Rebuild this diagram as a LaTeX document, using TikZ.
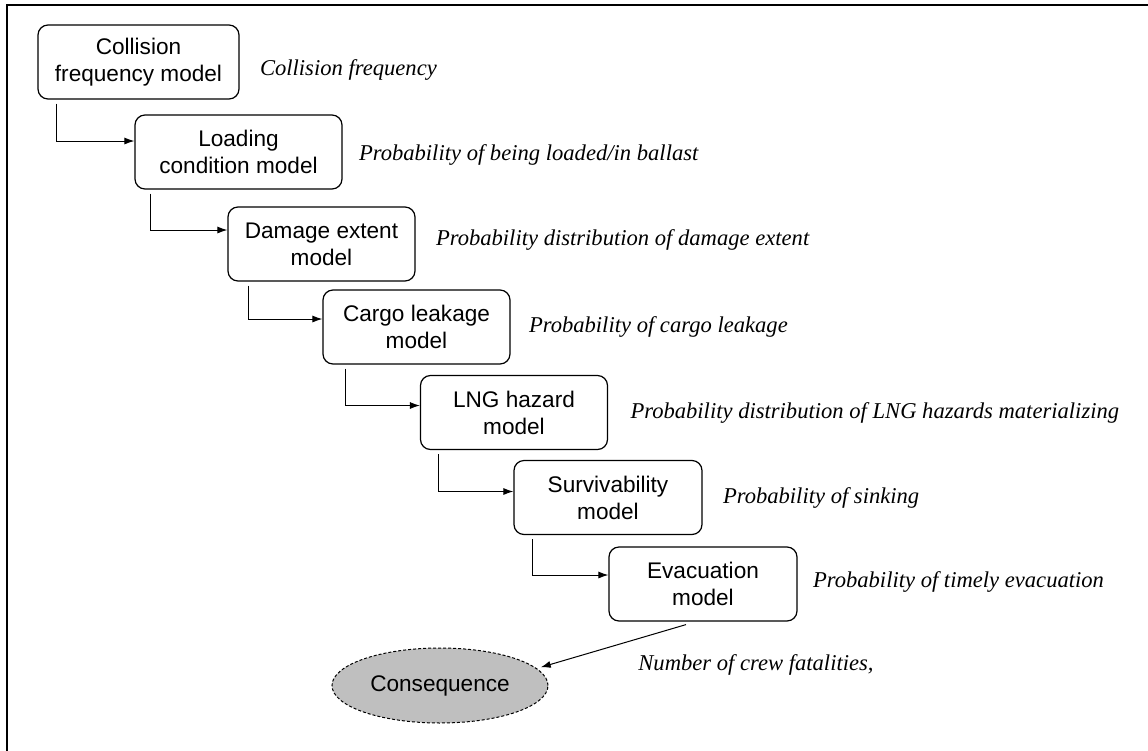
\documentclass[tikz,border=0pt]{standalone}
\usepackage{fontspec}
\setmainfont{Liberation Serif}
\setsansfont{Liberation Sans}
\usepackage{xcolor}
\usetikzlibrary{arrows.meta}
\usetikzlibrary{positioning}
\usetikzlibrary{calc}
\usetikzlibrary{shapes.geometric}

\begin{document}
\begin{tikzpicture}[x=0.5pt, y=-0.5pt,
	model/.style={rectangle, rounded corners=5pt, draw=black, line width=0.6pt, minimum height=37pt, inner sep=0pt, align=center, font=\sffamily\fontsize{11.3}{13.5}\selectfont},
	result/.style={anchor=west, inner sep=0pt, font=\itshape\fontsize{11.3}{13.5}\selectfont},
	flow/.style={-{Latex[length=5pt, width=3.5pt]}, line width=0.5pt}
]
	\useasboundingbox (0,0) rectangle (1148,751);
	\draw[line width=0.8pt] (7,751) -- (7,5) -- (1148,5);
	% models
	\node[model, minimum width=100.5pt] (colfreq) at (138.5,62) {Collision\\frequency model};
	\node[model, minimum width=103.5pt] (loadcond) at (238.5,152) {Loading\\condition model};
	\node[model, minimum width=93.5pt] (dmgext) at (321.5,244) {Damage extent\\model};
	\node[model, minimum width=93.5pt] (leak) at (416.5,327) {Cargo leakage\\model};
	\node[model, minimum width=93.5pt] (lng) at (514,412.5) {LNG hazard\\model};
	\node[model, minimum width=94pt] (surv) at (608,497.5) {Survivability\\model};
	\node[model, minimum width=94pt] (evac) at (703,584) {Evacuation\\model};
	\node[ellipse, draw=black, dash pattern=on 1.5pt off 1pt, line width=0.5pt, fill=black!25, minimum width=108pt, minimum height=37.5pt, inner sep=0pt, font=\sffamily\fontsize{11.3}{13.5}\selectfont] (cons) at (440,685.5) {Consequence};
	% outputs
	\node[result, right=10pt of colfreq, yshift=-4pt] (colfreqout) {Collision frequency};
	\node[result, right=8pt of loadcond, yshift=-1.5pt] (loadcondout) {Probability of being loaded/in ballast};
	\node[result, right=10pt of dmgext, yshift=2pt] (dmgextout) {Probability distribution of damage extent};
	\node[result, right=9pt of leak] (leakout) {Probability of cargo leakage};
	\node[result, right=11pt of lng] (lngout) {Probability distribution of LNG hazards materializing};
	\node[result, right=10pt of surv] (survout) {Probability of sinking};
	\node[result, right=7.5pt of evac, yshift=1pt] (evacout) {Probability of timely evacuation};
	\node[result] (consout) at (638,665) {Number of crew fatalities,};
	% links
	\draw[flow] ($(colfreq.south west)+(19,4)$) |- ($(loadcond.west)+(0,-11)$);
	\draw[flow] ($(loadcond.south west)+(16,4)$) |- ($(dmgext.west)+(0,-14)$);
	\draw[flow] ($(dmgext.south west)+(21,4)$) |- ($(leak.west)+(0,-8)$);
	\draw[flow] ($(leak.south west)+(23,4)$) |- ($(lng.west)+(0,-7)$);
	\draw[flow] ($(lng.south west)+(19,4)$) |- ($(surv.west)+(0,-6)$);
	\draw[flow] ($(surv.south west)+(19,4)$) |- ($(evac.west)+(0,-9)$);
	\draw[flow, shorten >=2pt] ($(evac.south)+(-17,3)$) -- (cons.10);
\end{tikzpicture}
\end{document}
